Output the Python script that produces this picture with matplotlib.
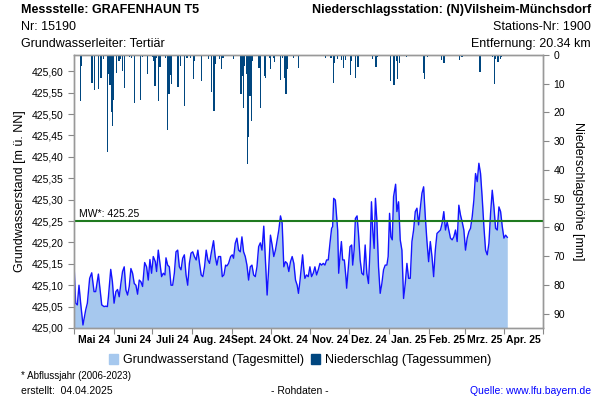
import numpy as np
import pandas as pd
import matplotlib
matplotlib.use("Agg")
import matplotlib.pyplot as plt
import matplotlib.dates as mdates
from matplotlib.patches import Patch

plt.rcParams['font.family'] = ['Liberation Sans', 'DejaVu Sans']

start_date = "2024-05-01"
end_date = "2025-05-01"

# groundwater level (daily means), days counted from start_date
gw_days = [0, 1.3, 2.6, 3.9, 5.2, 7.0, 9.1, 10.4, 12.2, 13.8, 15.6, 16.9, 19.0, 20.3,
           21.6, 23.4, 24.7, 26.0, 26.8, 28.6, 29.9, 31.2, 32.6, 33.9, 35.2, 36.5,
           37.8, 39.1, 40.4, 41.7, 43.0, 44.3, 45.6, 46.9, 48.2, 49.5, 50.8, 52.1,
           53.4, 55.0, 56.5, 57.8, 59.1, 60.4, 61.7, 63.3, 64.3, 65.6, 66.9, 68.2,
           69.5, 70.8, 71.6, 72.9, 74.2, 75.5, 76.8, 78.1, 79.4, 80.7, 82.0, 83.3,
           84.6, 85.9, 87.2, 88.5, 89.8, 91.1, 92.4, 93.7, 95.1, 96.4, 97.7, 99.0,
           100.3, 101.6, 102.9, 104.2, 105.5, 106.8, 108.6, 109.9, 111.2, 112.5,
           114.1, 115.4, 116.7, 118.0, 119.0, 120.3, 121.9, 123.2, 124.2, 125.5,
           126.8, 128.1, 129.4, 130.7, 132.0, 133.3, 134.6, 135.9, 137.2, 138.5,
           139.8, 141.1, 142.4, 143.7, 145.0, 146.3, 147.7, 149.0, 150.3, 151.6,
           152.9, 154.2, 155.5, 156.8, 158.1, 159.4, 160.7, 162.0, 163.3, 164.6,
           165.9, 167.2, 168.5, 169.8, 171.1, 172.4, 173.7, 174.7, 175.8, 177.9,
           178.9, 179.7, 181.0, 182.3, 183.6, 184.9, 186.2, 187.5, 188.8, 190.1,
           191.4, 192.7, 194.0, 195.3, 196.6, 197.9, 199.2, 200.5, 201.3, 202.1,
           203.4, 204.4, 205.2, 206.0, 207.0, 208.1, 209.1, 210.4, 211.7, 212.2,
           213.5, 214.8, 216.1, 216.9, 218.0, 219.0, 220.3, 221.4, 222.7, 224.0,
           225.3, 226.6, 227.9, 229.2, 230.5, 231.5, 232.5, 233.6, 234.6, 235.7,
           237.0, 238.3, 239.6, 240.9, 242.2, 243.5, 244.5, 245.6, 246.6, 247.7,
           248.7, 250.3, 251.3, 252.6, 253.9, 255.2, 256.5, 257.8, 259.1, 260.4,
           261.7, 263.0, 264.3, 265.6, 266.9, 268.2, 269.5, 270.8, 272.1, 273.4,
           274.7, 276.0, 277.3, 278.6, 279.9, 281.2, 282.5, 283.8, 285.2, 286.5,
           287.8, 289.1, 290.4, 291.7, 293.0, 294.3, 295.6, 296.9, 298.2, 299.5,
           300.8, 302.1, 303.4, 304.7, 306.0, 307.3, 308.6, 309.9, 311.2, 312.5,
           313.8, 315.1, 316.4, 317.7, 319.0, 320.3, 321.6, 322.9, 324.2, 325.5,
           326.8, 328.1, 329.4, 330.7, 332.0, 333.3, 334.6, 335.9, 337.2]
gw_values = [425.151, 425.058, 425.054, 425.100, 425.058, 425.007, 425.042, 425.058,
             425.116, 425.129, 425.085, 425.085, 425.126, 425.089, 425.054, 425.050,
             425.051, 425.050, 425.073, 425.137, 425.108, 425.058, 425.085, 425.090,
             425.073, 425.104, 425.132, 425.143, 425.089, 425.077, 425.097, 425.139,
             425.128, 425.104, 425.100, 425.079, 425.112, 425.108, 425.097, 425.153,
             425.143, 425.112, 425.160, 425.128, 425.167, 425.155, 425.132, 425.182,
             425.151, 425.120, 425.128, 425.124, 425.164, 425.147, 425.143, 425.100,
             425.100, 425.128, 425.178, 425.182, 425.143, 425.136, 425.163, 425.171,
             425.124, 425.100, 425.151, 425.175, 425.178, 425.167, 425.159, 425.182,
             425.151, 425.124, 425.120, 425.143, 425.182, 425.159, 425.151, 425.175,
             425.204, 425.167, 425.147, 425.167, 425.167, 425.120, 425.124, 425.147,
             425.145, 425.151, 425.167, 425.171, 425.163, 425.198, 425.210, 425.182,
             425.178, 425.213, 425.178, 425.167, 425.147, 425.112, 425.143, 425.147,
             425.124, 425.120, 425.143, 425.190, 425.199, 425.182, 425.238, 425.159,
             425.077, 425.143, 425.217, 425.194, 425.167, 425.182, 425.206, 425.229,
             425.262, 425.245, 425.143, 425.155, 425.151, 425.132, 425.155, 425.167,
             425.151, 425.112, 425.100, 425.081, 425.108, 425.171, 425.136, 425.116,
             425.124, 425.120, 425.143, 425.120, 425.128, 425.143, 425.124, 425.136,
             425.151, 425.147, 425.151, 425.147, 425.159, 425.159, 425.198, 425.233,
             425.237, 425.303, 425.299, 425.260, 425.229, 425.128, 425.167, 425.202,
             425.159, 425.159, 425.116, 425.093, 425.143, 425.190, 425.194, 425.147,
             425.182, 425.256, 425.262, 425.221, 425.159, 425.128, 425.124, 425.194,
             425.128, 425.104, 425.190, 425.295, 425.229, 425.186, 425.303, 425.252,
             425.143, 425.081, 425.104, 425.136, 425.147, 425.147, 425.167, 425.268,
             425.213, 425.206, 425.307, 425.336, 425.272, 425.295, 425.206, 425.182,
             425.069, 425.104, 425.151, 425.116, 425.116, 425.202, 425.229, 425.272,
             425.280, 425.241, 425.280, 425.315, 425.330, 425.260, 425.202, 425.155,
             425.202, 425.167, 425.120, 425.182, 425.221, 425.225, 425.229, 425.245,
             425.272, 425.229, 425.248, 425.229, 425.210, 425.206, 425.213, 425.229,
             425.202, 425.287, 425.264, 425.248, 425.229, 425.182, 425.210, 425.225,
             425.233, 425.260, 425.299, 425.361, 425.342, 425.385, 425.361, 425.303,
             425.237, 425.182, 425.171, 425.198, 425.268, 425.322, 425.283, 425.233,
             425.229, 425.283, 425.272, 425.237, 425.210, 425.217, 425.212]

# daily precipitation totals (mm), days counted from start_date
rain_days = [1, 5, 6, 14, 16, 19, 21, 23, 26, 27, 28, 29, 30, 31, 33, 35, 36, 38, 39,
             43, 45, 47, 52, 53, 57, 61, 62, 63, 64, 66, 67, 71, 73, 74, 75, 76, 81,
             83, 86, 88, 91, 93, 94, 99, 105, 107, 109, 110, 113, 115, 116, 124, 130,
             131, 132, 133, 134, 135, 136, 137, 138, 139, 144, 145, 148, 149, 152,
             153, 155, 156, 161, 162, 164, 165, 166, 171, 175, 196, 200, 202, 203,
             205, 208, 210, 211, 215, 216, 219, 221, 232, 235, 236, 246, 249, 251,
             252, 253, 259, 272, 273, 275, 286, 288, 300, 302, 316, 326, 327, 328,
             330, 332, 333]
rain_mm = [0.5, 16.1, 3.8, 9.7, 12.3, 11.7, 8.1, 1.5, 33.9, 6.7, 10.5, 19.8, 24.8, 15.5,
           6.2, 2.1, 1.5, 5.6, 11.4, 0.8, 1.0, 16.6, 15.8, 0.8, 6.5, 0.8, 2.0, 10.8,
           1.0, 16.1, 4.2, 1.2, 26.0, 13.7, 7.0, 10.2, 11.1, 3.8, 17.6, 1.2, 1.2, 8.3,
           2.0, 9.1, 1.5, 12.9, 19.6, 3.0, 1.5, 5.0, 1.2, 1.5, 13.7, 7.3, 18.4, 3.8,
           6.7, 38.0, 28.7, 14.3, 22.8, 2.0, 4.4, 18.4, 7.3, 7.9, 1.0, 5.0, 1.0, 2.3,
           8.8, 1.0, 7.9, 13.5, 5.0, 1.2, 4.6, 1.2, 1.0, 9.7, 2.7, 1.5, 1.9, 4.6, 1.9,
           7.0, 2.1, 8.0, 4.2, 1.5, 4.2, 0.8, 9.1, 10.5, 2.1, 8.5, 2.7, 0.8, 6.2, 8.5,
           0.8, 1.9, 2.7, 1.9, 0.8, 5.8, 0.8, 10.0, 1.5, 2.3, 1.5, 0.8]

mean_level = 425.25
month_labels = ["Mai 24", "Juni 24", "Juli 24", "Aug. 24", "Sept. 24", "Okt. 24",
                "Nov. 24", "Dez. 24", "Jan. 25", "Feb. 25", "Mrz. 25", "Apr. 25"]

t0 = mdates.date2num(pd.Timestamp(start_date))
gw_x = t0 + np.array(gw_days)
rain_x = t0 + np.array(rain_days)

fig = plt.figure(figsize=(6, 4), dpi=100)
ax = fig.add_axes([0.1233, 0.18, 0.7817, 0.6825])

ax.fill_between(gw_x, 425.0, gw_values, color='#a6c8ee', lw=0, zorder=1)
ax.plot(gw_x, gw_values, color='#1414ff', lw=1.0, zorder=2)
ax.axhline(mean_level, color='#1f7a1f', lw=1.5, zorder=3)
ax.text(t0 + 4, mean_level + 0.004, "MW*: 425.25", fontsize=7.5, va='bottom', ha='left')

ax.set_ylim(425.0, 425.638)
ax.set_yticks(np.arange(425.0, 425.601, 0.05))
ax.set_yticklabels([f"{v:.2f}".replace('.', ',') for v in np.arange(425.0, 425.601, 0.05)])
ax.set_ylabel("Grundwasserstand [m ü. NN]", fontsize=9)

month_starts = pd.date_range(start_date, end_date, freq='MS')
month_mids = month_starts[:-1] + (month_starts[1:] - month_starts[:-1]) / 2
ax.set_xlim(mdates.date2num(pd.Timestamp(start_date)), mdates.date2num(pd.Timestamp(end_date)))
ax.set_xticks(mdates.date2num(month_starts))
ax.set_xticklabels([])
ax.set_xticks(mdates.date2num(month_mids), minor=True)
ax.set_xticklabels(month_labels, minor=True, fontsize=7.5, fontweight='bold')
ax.tick_params(axis='x', which='minor', length=0, pad=5)
ax.tick_params(axis='x', which='major', length=4, color='#888888')
ax.tick_params(axis='y', labelsize=7.5, length=4, color='#888888')

ax2 = ax.twinx()
ax2.bar(rain_x, rain_mm, width=0.9, color='#00467f', lw=0)
ax2.set_ylim(95, 0)
ax2.set_yticks(range(0, 91, 10))
ax2.tick_params(axis='y', labelsize=7.5, length=4, color='#888888')
ax2.set_ylabel("Niederschlagshöhe [mm]", fontsize=9, rotation=270, labelpad=14)

for a in (ax, ax2):
    for s in a.spines.values():
        s.set_color('#999999')
        s.set_linewidth(1.0)

handles = [Patch(color='#a6c8ee'), Patch(color='#00467f')]
fig.legend(handles, ["Grundwasserstand (Tagesmittel)", "Niederschlag (Tagessummen)"],
           loc='center', bbox_to_anchor=(0.5, 0.1), ncol=2, frameon=False, fontsize=9,
           handlelength=0.7, handleheight=0.9, handletextpad=0.4, columnspacing=0.6)

fig.text(0.035, 0.975, "Messstelle: GRAFENHAUN T5", fontsize=9, fontweight='bold', va='center')
fig.text(0.035, 0.9325, "Nr: 15190", fontsize=9, va='center')
fig.text(0.035, 0.89, "Grundwasserleiter: Tertiär", fontsize=9, va='center')
fig.text(0.985, 0.975, "Niederschlagsstation: (N)Vilsheim-Münchsdorf", fontsize=9,
         fontweight='bold', va='center', ha='right')
fig.text(0.985, 0.9325, "Stations-Nr: 1900", fontsize=9, va='center', ha='right')
fig.text(0.985, 0.89, "Entfernung: 20.34 km", fontsize=9, va='center', ha='right')

fig.text(0.035, 0.06, "* Abflussjahr (2006-2023)", fontsize=7, va='center')
fig.text(0.035, 0.022, "erstellt:  04.04.2025", fontsize=7.5, va='center')
fig.text(0.5, 0.022, "- Rohdaten -", fontsize=7.5, va='center', ha='center')
fig.text(0.985, 0.022, "Quelle: www.lfu.bayern.de", fontsize=7.5, va='center', ha='right',
         color='#0000ff')

fig.savefig("out.png", dpi=100)
